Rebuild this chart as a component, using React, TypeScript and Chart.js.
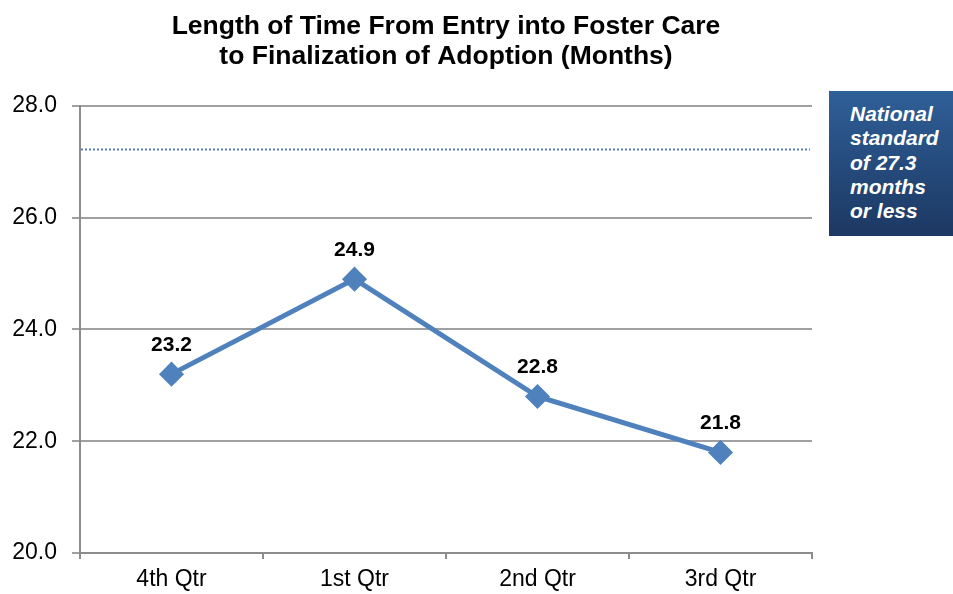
import React, { useEffect, useRef } from "react";
import { Chart, registerables } from "chart.js";

Chart.register(...registerables);

const categories = ["4th Qtr", "1st Qtr", "2nd Qtr", "3rd Qtr"];
const values = [23.2, 24.9, 22.8, 21.8];
const nationalStandardLine = 27.22;
const titleLines = ["Length of Time From Entry into Foster Care", "to Finalization of Adoption (Months)"];
const noteLines = ["National", "standard", "of 27.3", "months", "or less"];
const yMin = 20;
const yMax = 28;
const yStep = 2;

const FONT = "'Liberation Sans', Arial, sans-serif";
const BLUE = "#4f81bd";

const standardLinePlugin = {
  id: "standardLine",
  beforeDatasetsDraw(chart: any) {
    const { ctx, chartArea, scales } = chart;
    const y = scales.y.getPixelForValue(nationalStandardLine);
    ctx.save();
    ctx.strokeStyle = BLUE;
    ctx.lineWidth = 2;
    ctx.setLineDash([2, 2]);
    ctx.beginPath();
    ctx.moveTo(chartArea.left + 1, y);
    ctx.lineTo(chartArea.right - 2, y);
    ctx.stroke();
    ctx.restore();
  },
};

const valueLabelPlugin = {
  id: "valueLabels",
  afterDatasetsDraw(chart: any) {
    const { ctx } = chart;
    const meta = chart.getDatasetMeta(0);
    ctx.save();
    ctx.font = `bold 21px ${FONT}`;
    ctx.fillStyle = "#000";
    ctx.textAlign = "center";
    ctx.textBaseline = "middle";
    meta.data.forEach((pt: any, i: number) => {
      ctx.fillText(values[i].toFixed(1), pt.x, pt.y - 29);
    });
    ctx.restore();
  },
};

export default function App() {
  const canvasRef = useRef<HTMLCanvasElement>(null);

  useEffect(() => {
    document.body.style.margin = "0";
    const chart = new Chart(canvasRef.current!, {
      type: "line",
      data: {
        labels: categories,
        datasets: [
          {
            data: values,
            borderColor: BLUE,
            backgroundColor: BLUE,
            borderWidth: 5,
            pointStyle: "rectRot",
            pointRadius: 9,
            pointBackgroundColor: BLUE,
            pointBorderColor: BLUE,
            tension: 0,
          },
        ],
      },
      options: {
        animation: false,
        responsive: false,
        layout: { padding: { left: 0, right: 141, top: 0, bottom: 0 } },
        plugins: {
          legend: { display: false },
          tooltip: { enabled: false },
          title: {
            display: true,
            text: titleLines,
            fullSize: false,
            color: "#000",
            font: { family: FONT, size: 26.5, weight: "bold", lineHeight: 1.13 },
            padding: { top: 12, bottom: 34 },
          },
        },
        scales: {
          x: {
            offset: true,
            grid: {
              offset: true,
              drawOnChartArea: false,
              drawTicks: true,
              tickLength: 6,
              color: "#8c8c8c",
              lineWidth: 2,
            },
            border: { color: "#8c8c8c", width: 2 },
            ticks: { color: "#000", font: { family: FONT, size: 23 }, padding: 7 },
            afterFit(s: any) {
              s.height = 41;
            },
          },
          y: {
            min: yMin,
            max: yMax,
            grid: { color: "#a0a0a0", lineWidth: 2, tickLength: 8 },
            border: { color: "#8c8c8c", width: 2 },
            ticks: {
              stepSize: yStep,
              color: "#000",
              font: { family: FONT, size: 23 },
              padding: 15,
              callback: (v: any) => Number(v).toFixed(1),
            },
            afterFit(s: any) {
              s.width = 80;
            },
          },
        },
      },
      plugins: [standardLinePlugin, valueLabelPlugin],
    });
    return () => chart.destroy();
  }, []);

  return (
    <div style={{ position: "relative", width: 953, height: 594 }}>
      <canvas ref={canvasRef} width={953} height={594} style={{ display: "block" }} />
      <div
        style={{
          position: "absolute",
          left: 829,
          top: 91,
          width: 124,
          height: 145,
          background: "linear-gradient(to bottom, #2f5f98, #1c3862)",
          color: "#fff",
          fontFamily: FONT,
          fontWeight: "bold",
          fontStyle: "italic",
          fontSize: 21,
          lineHeight: "24.3px",
          boxSizing: "border-box",
          padding: "11px 0 0 21px",
          whiteSpace: "nowrap",
        }}
      >
        {noteLines.map((l, i) => (
          <div key={i}>{l}</div>
        ))}
      </div>
    </div>
  );
}
